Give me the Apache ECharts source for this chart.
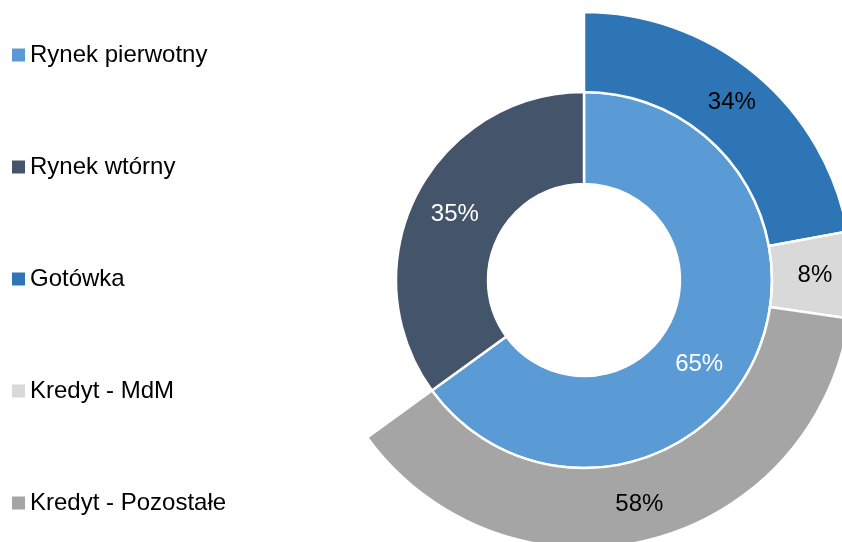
<!DOCTYPE html>
<html>
<head>
<meta charset="utf-8">
<style>html,body{margin:0;padding:0;background:#fff}#c{width:842px;height:542px}</style>
<script src="https://cdn.jsdelivr.net/npm/echarts@6/dist/echarts.min.js"></script>
</head>
<body>
<div id="c"></div>
<script>
const innerNames = ['Rynek pierwotny', 'Rynek wtórny'];
const innerValues = [65, 35];
const outerNames = ['Gotówka', 'Kredyt - MdM', 'Kredyt - Pozostałe'];
const outerValues = [34, 8, 58];

const innerColors = ['#5B9BD5', '#44546A'];
const outerColors = ['#2E75B6', '#D9D9D9', '#A5A5A5'];

const chart = echarts.init(document.getElementById('c'), null, {renderer: 'canvas'});

// outer ring only spans the "Rynek pierwotny" share of the circle
const share = innerValues[0] / 100;
const outerData = outerNames.map((n, i) => ({
  name: n,
  value: outerValues[i] * share,
  pct: outerValues[i],
  itemStyle: {color: outerColors[i]}
}));
outerData.push({
  name: '_rest',
  value: 100 - innerValues[0],
  itemStyle: {color: 'rgba(0,0,0,0)', borderWidth: 0},
  label: {show: false},
  emphasis: {disabled: true},
  tooltip: {show: false}
});

const innerData = innerNames.map((n, i) => ({
  name: n,
  value: innerValues[i],
  itemStyle: {color: innerColors[i]},
  label: i === 0 ? {offset: [-14, 19]} : {}
}));

const FONT = 'Liberation Sans, Arial, sans-serif';

chart.setOption({
  animation: false,
  legend: {
    orient: 'vertical',
    left: 5,
    top: 38,
    height: 520,
    itemWidth: 15,
    itemHeight: 15,
    itemGap: 88,
    icon: 'rect',
    data: innerNames.concat(outerNames),
    textStyle: {fontFamily: FONT, fontSize: 24, lineHeight: 24, color: '#000', padding: [0,0,0,-1]}
  },
  series: [
    {
      type: 'pie',
      center: [584, 280],
      radius: [96, 188],
      startAngle: 90,
      clockwise: true,
      avoidLabelOverlap: false,
      data: innerData,
      itemStyle: {borderColor: '#fff', borderWidth: 2.5},
      label: {
        show: true,
        position: 'inside',
        formatter: p => p.value + '%',
        color: '#fff',
        fontFamily: FONT,
        fontSize: 24
      },
      labelLine: {show: false}
    },
    {
      type: 'pie',
      center: [584, 280],
      radius: [188, 268],
      startAngle: 90,
      clockwise: true,
      avoidLabelOverlap: false,
      data: outerData,
      itemStyle: {borderColor: '#fff', borderWidth: 2.5},
      label: {
        show: true,
        position: 'inside',
        formatter: p => p.data.pct + '%',
        color: '#000',
        fontFamily: FONT,
        fontSize: 24
      },
      labelLine: {show: false}
    }
  ]
});
</script>
</body>
</html>
